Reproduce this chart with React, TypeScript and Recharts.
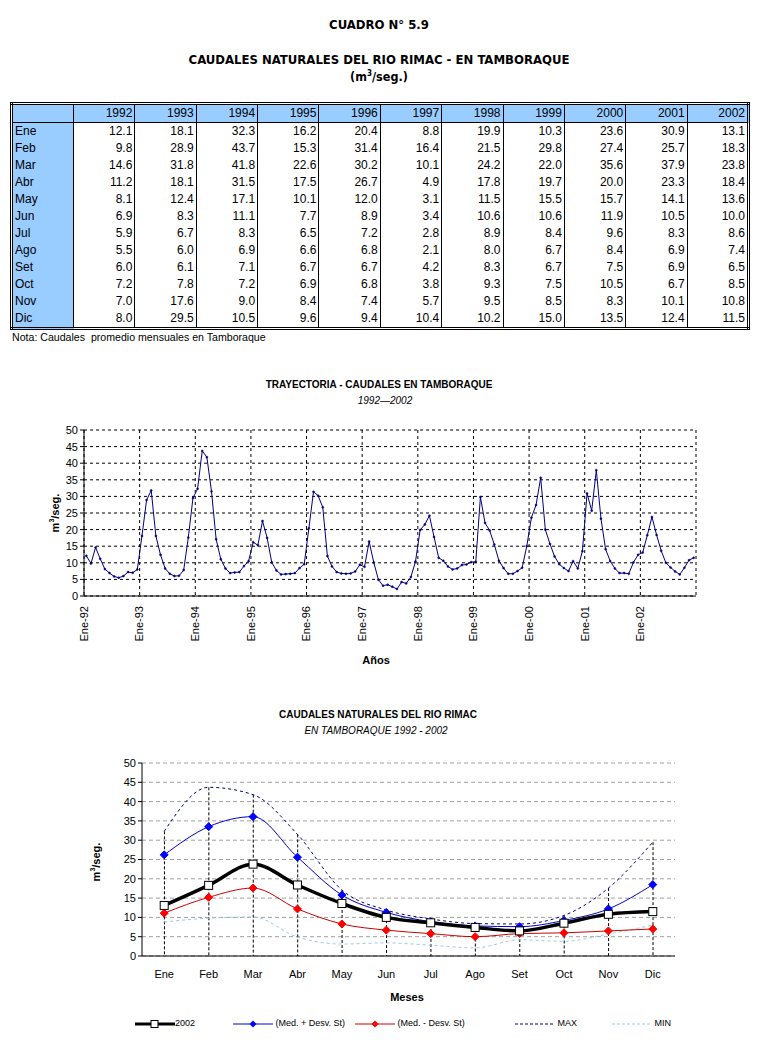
import React from "react"
import { LineChart, Line, XAxis, YAxis, CartesianGrid, ComposedChart, Bar } from "recharts"

const months = ["Ene", "Feb", "Mar", "Abr", "May", "Jun", "Jul", "Ago", "Set", "Oct", "Nov", "Dic"]
const years = ["1992", "1993", "1994", "1995", "1996", "1997", "1998", "1999", "2000", "2001", "2002"]

const q1992 = [12.1, 9.8, 14.6, 11.2, 8.1, 6.9, 5.9, 5.5, 6.0, 7.2, 7.0, 8.0]
const q1993 = [18.1, 28.9, 31.8, 18.1, 12.4, 8.3, 6.7, 6.0, 6.1, 7.8, 17.6, 29.5]
const q1994 = [32.3, 43.7, 41.8, 31.5, 17.1, 11.1, 8.3, 6.9, 7.1, 7.2, 9.0, 10.5]
const q1995 = [16.2, 15.3, 22.6, 17.5, 10.1, 7.7, 6.5, 6.6, 6.7, 6.9, 8.4, 9.6]
const q1996 = [20.4, 31.4, 30.2, 26.7, 12.0, 8.9, 7.2, 6.8, 6.7, 6.8, 7.4, 9.4]
const q1997 = [8.8, 16.4, 10.1, 4.9, 3.1, 3.4, 2.8, 2.1, 4.2, 3.8, 5.7, 10.4]
const q1998 = [19.9, 21.5, 24.2, 17.8, 11.5, 10.6, 8.9, 8.0, 8.3, 9.3, 9.5, 10.2]
const q1999 = [10.3, 29.8, 22.0, 19.7, 15.5, 10.6, 8.4, 6.7, 6.7, 7.5, 8.5, 15.0]
const q2000 = [23.6, 27.4, 35.6, 20.0, 15.7, 11.9, 9.6, 8.4, 7.5, 10.5, 8.3, 13.5]
const q2001 = [30.9, 25.7, 37.9, 23.3, 14.1, 10.5, 8.3, 6.9, 6.9, 6.7, 10.1, 12.4]
const q2002 = [13.1, 18.3, 23.8, 18.4, 13.6, 10.0, 8.6, 7.4, 6.5, 8.5, 10.8, 11.5]

const yearlyFlows = [q1992, q1993, q1994, q1995, q1996, q1997, q1998, q1999, q2000, q2001, q2002]

// chart 2
const medPlusSd = [26.2, 33.5, 36.1, 25.6, 15.8, 11.3, 8.9, 7.8, 7.6, 9.2, 12.2, 18.5]
const medMinusSd = [11.1, 15.2, 17.6, 12.2, 8.3, 6.7, 5.8, 5.0, 5.8, 6.0, 6.5, 7.0]
const maxFlow = [32.3, 43.7, 41.8, 31.5, 17.1, 11.9, 9.6, 8.4, 8.3, 10.5, 17.6, 29.5]
const minFlow = [8.8, 9.8, 10.1, 4.9, 3.1, 3.4, 2.8, 2.1, 4.2, 3.8, 5.7, 8.0]

const yTicks = [0, 5, 10, 15, 20, 25, 30, 35, 40, 45, 50]
const yearTicks = [0, 12, 24, 36, 48, 60, 72, 84, 96, 108, 120]
const yearTickLabels = ["Ene-92", "Ene-93", "Ene-94", "Ene-95", "Ene-96", "Ene-97", "Ene-98", "Ene-99", "Ene-00", "Ene-01", "Ene-02"]

const series = yearlyFlows.flatMap((flows, yi) =>
  flows.map((q, mi) => ({ t: yi * 12 + mi + 0.5, q }))
)

const monthlyRows = months.map((m, i) => ({
  month: m,
  y2002: q2002[i],
  plus: medPlusSd[i],
  minus: medMinusSd[i],
  max: maxFlow[i],
  min: minFlow[i],
}))

const NARROW = '"Liberation Sans Narrow", "DejaVu Sans Condensed", "Arial Narrow", sans-serif'
const SANS = '"Liberation Sans", Arial, sans-serif'

function YearTick({ x, y, payload }: any) {
  const i = yearTicks.indexOf(payload.value)
  return (
    <text
      x={x}
      y={y + 2}
      transform={`rotate(-90 ${x} ${y + 2})`}
      textAnchor="end"
      dy="0.35em"
      fontSize={11}
      fontFamily={SANS}
      fill="#000"
    >
      {yearTickLabels[i]}
    </text>
  )
}

function DropLine({ x, y, width, height }: any) {
  const cx = x + width / 2
  return <line x1={cx} x2={cx} y1={y} y2={y + height} stroke="#000" strokeDasharray="3 2" strokeWidth={1} />
}

function Diamond({ cx, cy, index, fill }: any) {
  return (
    <polygon
      key={`d-${index}`}
      points={`${cx},${cy - 4} ${cx + 4},${cy} ${cx},${cy + 4} ${cx - 4},${cy}`}
      fill={fill}
      stroke={fill}
    />
  )
}

function Square({ cx, cy, index }: any) {
  return <rect key={`s-${index}`} x={cx - 4} y={cy - 4} width={8} height={8} fill="#fff" stroke="#000" strokeWidth={1} />
}

function LegendLine({ color, width, dash, marker }: { color: string; width: number; dash?: string; marker?: string }) {
  return (
    <svg width={40} height={10} style={{ verticalAlign: "middle" }}>
      <line x1={0} x2={40} y1={5} y2={5} stroke={color} strokeWidth={width} strokeDasharray={dash} />
      {marker === "square" && <rect x={16} y={1.5} width={7} height={7} fill="#fff" stroke="#000" />}
      {marker === "diamond" && <polygon points="20,1.5 23.5,5 20,8.5 16.5,5" fill={color === "#0000cc" ? "#0000ff" : "#ff0000"} />}
    </svg>
  )
}

function FlowTable() {
  const cellBase: React.CSSProperties = {
    height: 17,
    padding: "0 2px",
    fontFamily: SANS,
    fontSize: 12,
    lineHeight: "17px",
    borderLeft: "1px solid #000",
  }
  return (
    <table
      style={{
        position: "absolute",
        left: 10,
        top: 102,
        width: 740,
        borderCollapse: "collapse",
        tableLayout: "fixed",
        border: "3px double #000",
      }}
    >
      <colgroup>
        <col style={{ width: 62 }} />
        {years.map((y) => (
          <col key={y} />
        ))}
      </colgroup>
      <tbody>
        <tr>
          <td style={{ ...cellBase, background: "#99ccff", borderBottom: "1px solid #000" }}></td>
          {years.map((y) => (
            <td key={y} style={{ ...cellBase, background: "#99ccff", textAlign: "right", borderBottom: "1px solid #000" }}>
              {y}
            </td>
          ))}
        </tr>
        {months.map((m, mi) => (
          <tr key={m}>
            <td style={{ ...cellBase, background: "#99ccff", textAlign: "left" }}>{m}</td>
            {yearlyFlows.map((flows, yi) => (
              <td key={yi} style={{ ...cellBase, textAlign: "right" }}>
                {flows[mi].toFixed(1)}
              </td>
            ))}
          </tr>
        ))}
      </tbody>
    </table>
  )
}

const centerText = (top: number, text: React.ReactNode, style: React.CSSProperties, cx = 379) => (
  <div
    style={{
      position: "absolute",
      top,
      left: cx - 300,
      width: 600,
      textAlign: "center",
      whiteSpace: "nowrap",
      ...style,
    }}
  >
    {text}
  </div>
)

const rotatedLabel = (cx: number, cy: number) => (
  <div
    style={{
      position: "absolute",
      left: cx - 40,
      top: cy - 8,
      width: 80,
      height: 16,
      lineHeight: "16px",
      textAlign: "center",
      transform: "rotate(-90deg)",
      fontFamily: SANS,
      fontWeight: "bold",
      fontSize: 11,
    }}
  >
    m<sup style={{ fontSize: 7 }}>3</sup>/seg.
  </div>
)

export default function App() {
  const tickStyle = { fill: "#000", fontSize: 11, fontFamily: SANS }
  return (
    <div style={{ position: "absolute", left: 0, top: 0, width: 759, height: 1047, background: "#fff", overflow: "hidden" }}>
      {centerText(17, "CUADRO N° 5.9", { fontFamily: NARROW, fontWeight: "bold", fontSize: 13 })}
      {centerText(52, "CAUDALES NATURALES DEL RIO RIMAC - EN TAMBORAQUE", { fontFamily: NARROW, fontWeight: "bold", fontSize: 13 })}
      {centerText(69, <span>(m<sup style={{ fontSize: 8 }}>3</sup>/seg.)</span>, { fontFamily: NARROW, fontWeight: "bold", fontSize: 12.5 })}

      <FlowTable />
      <div style={{ position: "absolute", left: 12, top: 331, fontFamily: SANS, fontSize: 10.6 }}>
        Nota: Caudales&nbsp; promedio mensuales en Tamboraque
      </div>

      {centerText(379, "TRAYECTORIA - CAUDALES EN TAMBORAQUE", { fontFamily: SANS, fontWeight: "bold", fontSize: 10 })}
      {centerText(395, "1992\u20142002", { fontFamily: SANS, fontStyle: "italic", fontSize: 10 }, 385)}
      {rotatedLabel(52, 513)}
      {centerText(654, "Años", { fontFamily: SANS, fontWeight: "bold", fontSize: 11 }, 376)}

      <div style={{ position: "absolute", left: 0, top: 372 }}>
        <LineChart width={759} height={300} data={series} margin={{ top: 58, right: 63, bottom: 26, left: 50 }}>
          <CartesianGrid stroke="#000" strokeDasharray="3 3" />
          <XAxis
            dataKey="t"
            type="number"
            domain={[0, 132]}
            ticks={yearTicks}
            interval={0}
            tick={<YearTick />}
            tickLine={false}
            axisLine={{ stroke: "#000" }}
            height={50}
          />
          <XAxis xAxisId="top" orientation="top" type="number" domain={[0, 132]} tick={false} tickLine={false} axisLine={{ stroke: "#808080" }} height={0} />
          <YAxis
            domain={[0, 50]}
            ticks={yTicks}
            interval={0}
            tick={tickStyle}
            tickSize={4}
            tickLine={{ stroke: "#000" }}
            axisLine={{ stroke: "#000" }}
            width={34}
          />
          <YAxis yAxisId="right" orientation="right" domain={[0, 50]} tick={false} tickLine={false} axisLine={{ stroke: "#808080" }} width={0} />
          <Line
            dataKey="q"
            type="linear"
            stroke="#000080"
            strokeWidth={1}
            dot={{ r: 1, fill: "#000080", stroke: "#000080", strokeWidth: 0.5 }}
            isAnimationActive={false}
          />
        </LineChart>
      </div>

      {centerText(709, "CAUDALES NATURALES DEL RIO RIMAC", { fontFamily: SANS, fontWeight: "bold", fontSize: 10 }, 378)}
      {centerText(725, "EN TAMBORAQUE 1992 - 2002", { fontFamily: SANS, fontStyle: "italic", fontSize: 10 }, 376)}
      {rotatedLabel(93, 862)}
      {centerText(991, "Meses", { fontFamily: SANS, fontWeight: "bold", fontSize: 11 }, 407)}

      <div style={{ position: "absolute", left: 0, top: 700 }}>
        <ComposedChart width={759} height={310} data={monthlyRows} margin={{ top: 63, right: 84, bottom: 24, left: 112 }}>
          <CartesianGrid stroke="#a0a0a0" strokeDasharray="4 3" vertical={false} />
          <XAxis dataKey="month" tick={tickStyle} tickLine={false} axisLine={{ stroke: "#000" }} tickMargin={8} height={30} interval={0} />
          <XAxis xAxisId="top" orientation="top" dataKey="month" tick={false} tickLine={false} axisLine={{ stroke: "#000" }} height={0} />
          <YAxis
            domain={[0, 50]}
            ticks={yTicks}
            interval={0}
            tick={tickStyle}
            tickSize={4}
            tickLine={{ stroke: "#000" }}
            axisLine={{ stroke: "#000" }}
            width={30}
          />
          <YAxis yAxisId="right" orientation="right" domain={[0, 50]} tick={false} tickLine={false} axisLine={{ stroke: "#000" }} width={0} />
          <Bar dataKey="max" shape={<DropLine />} isAnimationActive={false} />
          <Line dataKey="min" type="monotone" stroke="#99ccdd" strokeWidth={1} strokeDasharray="3 3" dot={false} isAnimationActive={false} />
          <Line dataKey="max" type="monotone" stroke="#000080" strokeWidth={1} strokeDasharray="3 3" dot={false} isAnimationActive={false} />
          <Line dataKey="minus" type="monotone" stroke="#cc0000" strokeWidth={1} dot={<Diamond fill="#ff0000" />} isAnimationActive={false} />
          <Line dataKey="plus" type="monotone" stroke="#0000cc" strokeWidth={1} dot={<Diamond fill="#0000ff" />} isAnimationActive={false} />
          <Line dataKey="y2002" type="monotone" stroke="#000" strokeWidth={3.5} dot={<Square />} isAnimationActive={false} />
        </ComposedChart>
      </div>

      <div style={{ position: "absolute", top: 1018, left: 0, width: 759, height: 12, fontFamily: SANS, fontSize: 9 }}>
        <div style={{ position: "absolute", left: 135, whiteSpace: "nowrap" }}>
          <LegendLine color="#000" width={3} marker="square" />2002
        </div>
        <div style={{ position: "absolute", left: 233, whiteSpace: "nowrap" }}>
          <LegendLine color="#0000cc" width={1} marker="diamond" /> (Med. + Desv. St)
        </div>
        <div style={{ position: "absolute", left: 355, whiteSpace: "nowrap" }}>
          <LegendLine color="#cc0000" width={1} marker="diamond" /> (Med. - Desv. St)
        </div>
        <div style={{ position: "absolute", left: 515, whiteSpace: "nowrap" }}>
          <LegendLine color="#000080" width={1} dash="3 2" /> MAX
        </div>
        <div style={{ position: "absolute", left: 612, whiteSpace: "nowrap" }}>
          <LegendLine color="#99ccdd" width={1} dash="3 2" /> MIN
        </div>
      </div>
    </div>
  )
}
